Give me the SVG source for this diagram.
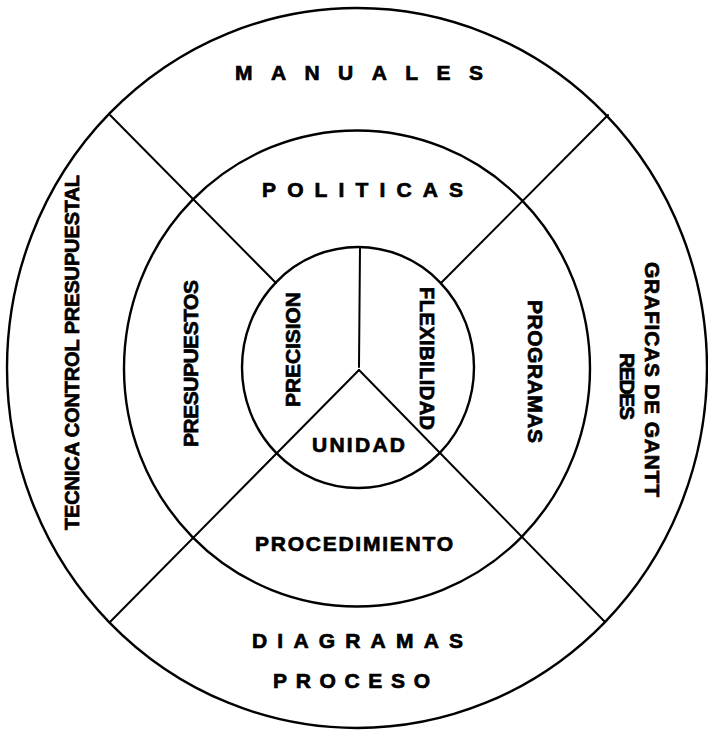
<svg xmlns="http://www.w3.org/2000/svg" width="708" height="732" viewBox="0 0 708 732">
<style>
.ring{fill:none;stroke:#000;stroke-width:2.4}
.ln{fill:none;stroke:#000;stroke-width:2;stroke-linecap:round}
.t{font-family:"Liberation Sans",Arial,sans-serif;font-weight:bold;font-size:21px;fill:#000;stroke:#000;stroke-width:0.7;text-anchor:middle}
.s{font-size:20px}
</style>
<rect width="708" height="732" fill="#fff"/>
<g id="rings">
<ellipse id="outer" class="ring" cx="357" cy="368" rx="350" ry="360"/>
<ellipse id="middle" class="ring" cx="357" cy="368.5" rx="233" ry="238"/>
<ellipse id="inner" class="ring" cx="358" cy="367.5" rx="116" ry="120.5"/>
</g>
<g id="connectors">
<line class="ln" x1="110" y1="115" x2="276" y2="283"/>
<line class="ln" x1="608" y1="115" x2="441" y2="283"/>
<line class="ln" x1="360" y1="247" x2="359" y2="367"/>
<line class="ln" x1="359" y1="370" x2="110" y2="622"/>
<line class="ln" x1="359" y1="370" x2="605" y2="622"/>
</g>
<g id="manuales"><text class="t" x="359" y="80" textLength="248" lengthAdjust="spacing">MANUALES</text></g>
<g id="politicas"><text class="t" x="362.5" y="197" textLength="201" lengthAdjust="spacing">POLITICAS</text></g>
<g id="unidad"><text class="t" x="358.5" y="452" textLength="93" lengthAdjust="spacing">UNIDAD</text></g>
<g id="procedimiento"><text class="t" x="354" y="551" textLength="198" lengthAdjust="spacing">PROCEDIMIENTO</text></g>
<g id="diagramas-proceso">
<text class="t" x="357.5" y="648" textLength="211" lengthAdjust="spacing">DIAGRAMAS</text>
<text class="t" x="351.5" y="688" textLength="157" lengthAdjust="spacing">PROCESO</text>
</g>
<g id="tecnica" transform="translate(71.5,352.5) rotate(-90)"><text class="t s" x="0" y="7.5" textLength="355" lengthAdjust="spacing">TECNICA CONTROL PRESUPUESTAL</text></g>
<g id="presupuestos" transform="translate(190,363.5) rotate(-90)"><text class="t" x="0" y="7.5" textLength="167" lengthAdjust="spacing">PRESUPUESTOS</text></g>
<g id="precision" transform="translate(292.5,349.5) rotate(-90)"><text class="t" x="0" y="7.5" textLength="115" lengthAdjust="spacing">PRECISION</text></g>
<g id="flexibilidad" transform="translate(427.5,358.5) rotate(90)"><text class="t s" x="0" y="7.5" textLength="143" lengthAdjust="spacing">FLEXIBILIDAD</text></g>
<g id="programas" transform="translate(535,371.5) rotate(90)"><text class="t" x="0" y="7.5" textLength="143" lengthAdjust="spacing">PROGRAMAS</text></g>
<g id="graficas">
<g transform="translate(652.5,379.5) rotate(90)"><text class="t" x="0" y="7.5" textLength="235" lengthAdjust="spacing">GRAFICAS DE GANTT</text></g>
<g transform="translate(627.5,386.5) rotate(90)"><text class="t" x="0" y="7.5" textLength="67" lengthAdjust="spacing">REDES</text></g>
</g>
</svg>
